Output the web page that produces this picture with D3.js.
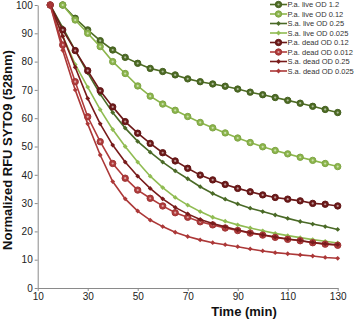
<!DOCTYPE html>
<html>
<head>
<meta charset="utf-8">
<script src="https://cdn.jsdelivr.net/npm/d3@7"></script>
<style>
  body { margin: 0; background: #fff; }
  svg { display: block; font-family: "Liberation Sans", Arial, sans-serif; }
</style>
</head>
<body>
<svg width="356" height="323"></svg>
<script>

// time points (min)
var timesPa = [20,25,30,35,40,45,50,55,60,65,70,75,80,85,90,95,100,105,110,115,120,125,130];
var timesOther = [15,20,25,30,35,40,45,50,55,60,65,70,75,80,85,90,95,100,105,110,115,120,125,130];

var paLive12 = [100,95.3,91.2,87.4,84.1,81.5,79.4,77.6,76.5,75.3,73.9,72.9,72.1,71.3,70.3,69.2,68.3,67.3,66.3,65.3,64.2,63.1,62];
var paLive012 = [100,94.7,90,85.3,80,75.8,71.4,67.8,65,62.8,60.6,58.5,56.6,54.8,53,51.4,49.9,48.6,47.4,46.2,45.1,44,42.9];
var saLive025 = [100,92,84,76,68.5,62,56.5,51.8,48,44.5,41.4,38.6,35.8,33.4,31.4,29.7,28.2,27,25.8,24.6,23.5,22.6,21.7,20.7];
var saLive0025 = [100,89,79,71,63,56,50,44.5,39.5,35.5,32,29.3,27,25,23.6,22.3,21.2,20.2,19.3,18.5,17.8,17.1,16.5,15.9];
var paDead012 = [100,91.2,83.9,76.8,69.7,64,58.8,54.7,51.1,47.8,44.9,42.3,39.9,38.2,36.6,35.2,34,32.9,32,31.4,30.8,29.9,29.6,29];
var paDead0012 = [100,85.9,72.9,60.5,51.7,44,38.8,34.6,31.7,29,26.6,25,23.4,22.3,21.2,20.3,19.4,18.7,17.9,17.2,16.7,16,15.5,15.1];
var saDead025 = [100,89,78,67,58,50.5,44.5,39.5,35.2,31.5,28.5,26.2,24.2,22.8,21.6,20.5,19.5,18.8,18,17.3,16.8,16.1,15.6,15.3];
var saDead0025 = [100,84,70,58,47,37.6,31.5,27.2,24,21.7,19.7,18.2,17,16,15.3,14.6,13.8,13.1,12.5,12.1,11.7,11.3,10.8,10.5];

var xTicks = [10,30,50,70,90,110,130];
var yTicks = [0,10,20,30,40,50,60,70,80,90,100];

var series = [
  {name:'P.a. live OD 1.2',    t:timesPa,    v:paLive12,   color:'#4d6b24', shape:'circle'},
  {name:'P.a. live OD 0.12',   t:timesPa,    v:paLive012,  color:'#8cb64c', shape:'circle'},
  {name:'S.a. live OD 0.25',   t:timesOther, v:saLive025,  color:'#4a6a27', shape:'diamond'},
  {name:'S.a. live OD 0.025',  t:timesOther, v:saLive0025, color:'#90bc52', shape:'diamond'},
  {name:'P.a. dead OD 0.12',   t:timesOther, v:paDead012,  color:'#6c1919', shape:'circle'},
  {name:'P.a. dead OD 0.012',  t:timesOther, v:paDead0012, color:'#b03b3b', shape:'circle'},
  {name:'S.a. dead OD 0.25',   t:timesOther, v:saDead025,  color:'#781b1b', shape:'diamond'},
  {name:'S.a. dead OD 0.025',  t:timesOther, v:saDead0025, color:'#ac3838', shape:'diamond'}
];

var svg = d3.select('svg');
var x = d3.scaleLinear().domain([10,130]).range([37.7,337.7]);
var y = d3.scaleLinear().domain([0,100]).range([288,5]);

// axes
var xAxis = svg.append('g')
  .attr('transform','translate(0,288)')
  .call(d3.axisBottom(x).tickValues(xTicks).tickSize(3).tickSizeOuter(0));
var yAxis = svg.append('g')
  .attr('transform','translate(37.7,0)')
  .call(d3.axisLeft(y).tickValues(yTicks).tickSize(3).tickSizeOuter(0));

[xAxis, yAxis].forEach(function(a){
  a.selectAll('path,line').attr('stroke','#8a8a8a');
  a.selectAll('text').attr('fill','#222').style('font-size','10px')
   .style('font-family','"Liberation Sans", Arial, sans-serif');
});
xAxis.selectAll('text').attr('y',5).attr('dy','0.71em');
yAxis.selectAll('text').attr('x',-5);

svg.append('text')
  .attr('x',244).attr('y',316)
  .attr('text-anchor','middle')
  .style('font-size','13px').style('font-weight','bold')
  .attr('fill','#111')
  .text('Time (min)');

svg.append('text')
  .attr('transform','translate(12,150) rotate(-90)')
  .attr('text-anchor','middle')
  .style('font-size','13px').style('font-weight','bold')
  .attr('fill','#111')
  .text('Normalized RFU SYTO9 (528nm)');

var line = d3.line().x(d => x(d[0])).y(d => y(d[1]));

function drawMarker(g, shape, color, cx, cy){
  if(shape == 'circle'){
    g.append('circle').attr('cx',cx).attr('cy',cy).attr('r',3.2)
      .attr('fill',color).attr('stroke',d3.color(color).darker(0.3)).attr('stroke-width',1);
    g.append('circle').attr('cx',cx).attr('cy',cy).attr('r',1.1)
      .attr('fill','#fff').attr('opacity',0.55);
  } else {
    var s = 2.4;
    g.append('path')
      .attr('d','M'+cx+','+(cy-s)+'L'+(cx+s)+','+cy+'L'+cx+','+(cy+s)+'L'+(cx-s)+','+cy+'Z')
      .attr('fill',color);
  }
}

var plot = svg.append('g').classed('plot',true);
series.forEach(function(s){
  var pts = s.t.map((t,i) => [t, s.v[i]]);
  var g = plot.append('g');
  g.append('path').datum(pts)
    .attr('d',line)
    .attr('fill','none')
    .attr('stroke',s.color)
    .attr('stroke-width',1.6);
  pts.forEach(function(p){ drawMarker(g, s.shape, s.color, x(p[0]), y(p[1])); });
});

// legend
var legend = svg.append('g').attr('transform','translate(270,4.5)');
series.forEach(function(s,i){
  var row = legend.append('g').attr('transform','translate(0,'+(i*9.5)+')');
  row.append('line').attr('x1',0).attr('x2',17).attr('y1',0).attr('y2',0)
    .attr('stroke',s.color).attr('stroke-width',1.6);
  drawMarker(row, s.shape, s.color, 8.5, 0);
  row.append('text').attr('x',17.5).attr('y',0).attr('dy','0.35em')
    .style('font-size','7.5px').attr('fill','#333')
    .text(s.name);
});

</script>
</body>
</html>
